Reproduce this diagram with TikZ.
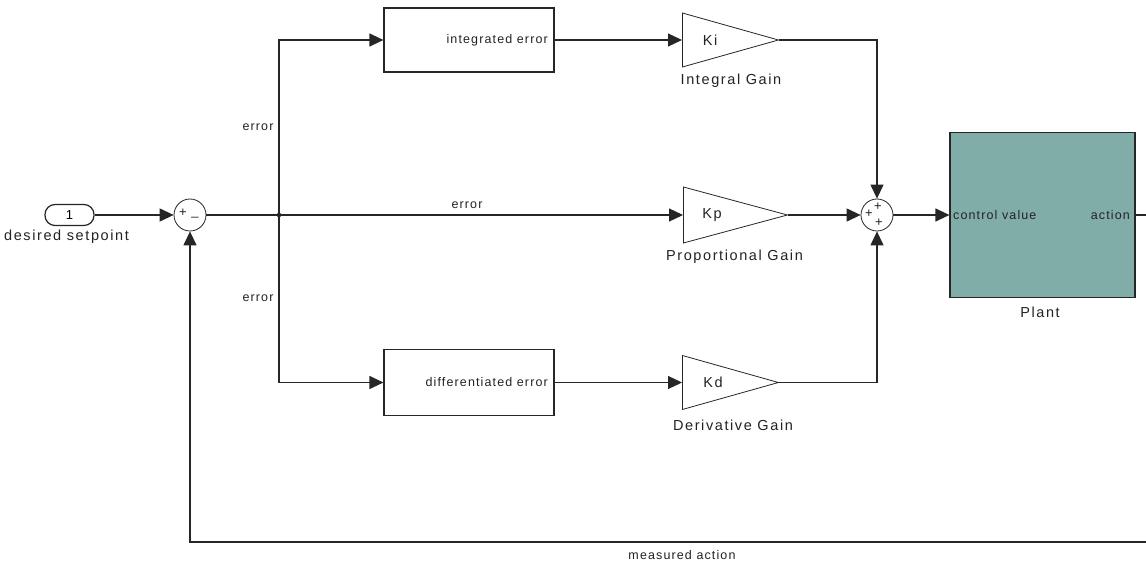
\documentclass[tikz,border=0pt]{standalone}
\usepackage{fontspec}
\setmainfont{Liberation Sans}
\usetikzlibrary{arrows.meta,shapes.geometric}
\definecolor{plantfill}{RGB}{128,173,168}
\definecolor{txt}{RGB}{35,35,35}
\begin{document}
\begin{tikzpicture}[x=1pt,y=-1pt,
  wire/.style={line width=1.2pt,draw=black!85},
  arr/.style={wire,-{Triangle[length=14pt,width=13pt]}},
  blk/.style={draw=black!85,line width=1.2pt,rectangle,inner sep=0},
  sumblk/.style={draw=black!85,line width=0.8pt,circle,minimum size=32pt,inner sep=0},
  gain/.style={draw=black!85,line width=0.8pt,isosceles triangle,isosceles triangle stretches,minimum height=96pt,minimum width=54pt,inner sep=0,anchor=lower side},
  big/.style={font=\fontsize{14.5}{16}\selectfont\addfontfeature{LetterSpace=11},text=txt,inner sep=0},
  small/.style={font=\fontsize{12.5}{14}\selectfont\addfontfeature{LetterSpace=9},text=txt,inner sep=0},
  sign/.style={font=\fontsize{13}{14}\selectfont,text=txt,inner sep=0}
]
\useasboundingbox (0,0) rectangle (1146,561);
\fill[white] (0,0) rectangle (1146,561);

% input port
\node[draw=black!85,line width=1.2pt,rounded corners=10pt,minimum width=49pt,minimum height=21pt,inner sep=0] (in1) at (69.5,215) {\fontsize{13}{14}\selectfont 1};
\node[big] (in1lbl) at (66.5,237) {desired setpoint};

% sum 1
\node[sumblk] (sum1) at (190,215) {};
\node[sign] (s1p) at (183,213) {+};
\node[sign] (s1m) at (195,216.5) {\_};

% junction
\coordinate (j) at (279,215);
\fill[black] (j) circle (2.2pt);

% blocks
\node[blk,minimum width=170pt,minimum height=64pt] (int) at (469,40) {};
\node[small,anchor=east] (inttxt) at (548,40) {integrated error};
\node[blk,minimum width=170pt,minimum height=66pt] (diff) at (469,382.5) {};
\node[small,anchor=east] (difftxt) at (548,382.5) {differentiated error};

% gains
\node[gain] (ki) at (682,40) {};
\node[big] (kitxt) at (710,40) {Ki};
\node[big] (kilbl) at (731,81) {Integral Gain};
\node[gain,minimum height=104pt,minimum width=56pt] (kp) at (683,215) {};
\node[big] (kptxt) at (712,215) {Kp};
\node[big] (kplbl) at (734.5,257) {Proportional Gain};
\node[gain] (kd) at (682,382.5) {};
\node[big] (kdtxt) at (713,382.5) {Kd};
\node[big] (kdlbl) at (733,425) {Derivative Gain};

% sum 2
\node[sumblk] (sum2) at (877,215) {};
\node[sign] (s2a) at (878,207) {+};
\node[sign] (s2b) at (869,214) {+};
\node[sign] (s2c) at (879,223) {+};

% plant
\node[blk,fill=plantfill,minimum width=185pt,minimum height=165pt] (plant) at (1042.5,215) {};
\node[small,anchor=west] (cv) at (953,215) {control value};
\node[small,anchor=east] (act) at (1130,215) {action};
\node[big] (plantlbl) at (1040,312) {Plant};

% labels on wires
\node[small] (e1) at (258,127) {error};
\node[small] (e2) at (467,205) {error};
\node[small] (e3) at (258,298) {error};
\node[small] (ma) at (682,555) {measured action};

% connectors
\draw[arr] (in1.east) -- (sum1.west);
\draw[wire] (sum1.east) -- (j);
\draw[arr] (j) -- (kp.lower side);
\draw[arr] (j) |- (int.west);
\draw[arr] (j) |- (diff.west);
\draw[arr] (int.east) -- (ki.lower side);
\draw[arr] (diff.east) -- (kd.lower side);
\draw[arr] (ki.apex) -| (sum2.north);
\draw[arr] (kp.apex) -- (sum2.west);
\draw[arr] (kd.apex) -| (sum2.south);
\draw[arr] (sum2.east) -- (plant.west);
\coordinate (r1) at (1148,215);
\coordinate (r2) at (1148,542);
\draw[arr] (plant.east) -- (r1) -- (r2) -| (sum1.south);
\end{tikzpicture}
\end{document}
